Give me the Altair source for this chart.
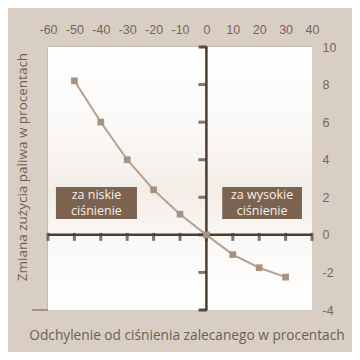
import altair as alt
import pandas as pd

# data
deviation = [-50, -40, -30, -20, -10, 0, 10, 20, 30]
fuel_change = [8.2, 6.0, 4.0, 2.4, 1.1, 0.0, -1.05, -1.75, -2.25]
x_ticks = [-60, -50, -40, -30, -20, -10, 0, 10, 20, 30, 40]
y_ticks = [-4, -2, 0, 2, 4, 6, 8, 10]
box_labels = ["za niskie", "za wysokie"]
box_line2 = ["ciśnienie", "ciśnienie"]
box_x1 = [-57, 6]
box_x2 = [-26.3, 36.2]
box_y1 = [0.85, 0.85]
box_y2 = [2.55, 2.55]

df = pd.DataFrame({"x": deviation, "y": fuel_change})
xt = pd.DataFrame({"x": x_ticks})
yt = pd.DataFrame({"y": y_ticks})
boxes = pd.DataFrame({
    "x1": box_x1, "x2": box_x2, "y1": box_y1, "y2": box_y2,
    "l1": box_labels, "l2": box_line2,
})
boxes["xc"] = (boxes["x1"] + boxes["x2"]) / 2
boxes["yc"] = (boxes["y1"] + boxes["y2"]) / 2

W, H = 264, 263
BROWN = "#4d3d31"
TXT = "#6e5e52"
LBL = "#75665a"
GRID = "#d6cec6"

xs = alt.Scale(domain=[-60, 40], nice=False, zero=False)
ys = alt.Scale(domain=[-4, 10], nice=False, zero=False)

xaxis = alt.Axis(orient="top", values=x_ticks, grid=True, gridColor=GRID, gridOpacity=1,
                 domain=False, ticks=False, labelPadding=11, labelFont="Liberation Sans",
                 labelFontSize=12.5, labelColor=LBL, title=None, labelOverlap=False,
                 labelExpr="toString(datum.value)", labelFlush=False)
yaxis = alt.Axis(orient="right", values=y_ticks, grid=True, gridColor=GRID, gridOpacity=1,
                 domain=False, ticks=False, labelPadding=10, labelFont="Liberation Sans",
                 labelFontSize=12.5, labelColor=LBL, title=None, labelAlign="left",
                 labelOverlap=False, labelExpr="toString(datum.value)", labelFlush=False)


def X(field):
    return alt.X(field, scale=xs, axis=xaxis)


def Y(field):
    return alt.Y(field, scale=ys, axis=yaxis)


def XD(v):
    return alt.datum(v, scale=xs, axis=xaxis)


def YD(v):
    return alt.datum(v, scale=ys, axis=yaxis)


one = pd.DataFrame({"a": [0]})

bg = alt.Chart(one).mark_rect(
    color=alt.LinearGradient(gradient="linear", x1=0, y1=0, x2=0, y2=1, stops=[
        alt.GradientStop(offset=0, color="#ffffff"),
        alt.GradientStop(offset=0.3, color="#fbf9f7"),
        alt.GradientStop(offset=0.55, color="#f3ede7"),
        alt.GradientStop(offset=0.75, color="#fbf9f7"),
        alt.GradientStop(offset=1, color="#ffffff"),
    ])
).encode(x=XD(-60), x2=alt.datum(40), y=YD(-4), y2=alt.datum(10))

hrule = alt.Chart(one).mark_rule(color=BROWN, strokeWidth=2.5).encode(
    x=XD(-60), x2=alt.datum(40), y=YD(0))
vrule = alt.Chart(one).mark_rule(color=BROWN, strokeWidth=2.5).encode(
    x=XD(0), y=YD(-4), y2=alt.datum(10))
hooks = alt.Chart(pd.DataFrame({"y": [-4, 10]})).mark_tick(
    color=BROWN, orient="horizontal", size=8, thickness=2.5, xOffset=-3).encode(
    x=XD(0), y=Y("y:Q"))

xticks = alt.Chart(xt).mark_tick(color=BROWN, orient="vertical", size=8,
                                 thickness=3, yOffset=2).encode(x=X("x:Q"), y=YD(0))
yticks = alt.Chart(yt).mark_tick(color=BROWN, orient="horizontal", size=8,
                                 thickness=3, xOffset=-4).encode(x=XD(0), y=Y("y:Q"))

line = alt.Chart(df).mark_line(color="#b7a290", strokeWidth=2).encode(x=X("x:Q"), y=Y("y:Q"))
pts = alt.Chart(df).mark_square(color="#a8927f", size=45, opacity=1).encode(x=X("x:Q"), y=Y("y:Q"))

rects = alt.Chart(boxes).mark_rect(color="#7b6350").encode(
    x=X("x1:Q"), x2="x2:Q", y=Y("y1:Q"), y2="y2:Q")
t1 = alt.Chart(boxes).mark_text(color="#f4efea", font="Open Sans", fontSize=12.5,
                                dy=-8).encode(x=X("xc:Q"), y=Y("yc:Q"), text="l1:N")
t2 = alt.Chart(boxes).mark_text(color="#f4efea", font="Open Sans", fontSize=12.5,
                                dy=8).encode(x=X("xc:Q"), y=Y("yc:Q"), text="l2:N")

ytitle = alt.Chart(pd.DataFrame({"t": ["Zmiana zużycia paliwa w procentach"]})).mark_text(
    color=TXT, font="Open Sans", fontSize=13.5, angle=270).encode(
    x=alt.value(-25), y=alt.value(120), text="t:N")
xtitle = alt.Chart(pd.DataFrame({"t": ["Odchylenie od ciśnienia zalecanego w procentach"]})).mark_text(
    color=TXT, font="Open Sans", fontSize=13.7).encode(
    x=alt.value(139), y=alt.value(289), text="t:N")
bottom_ext = alt.Chart(one).mark_rule(color="#8f7f70", strokeWidth=1.5).encode(
    x=alt.value(-16), x2=alt.value(0), y=alt.value(H))

chart = alt.layer(bg, hrule, vrule, hooks, xticks, yticks, line, pts, rects, t1, t2,
                  ytitle, xtitle, bottom_ext).properties(
    width=W, height=H,
    autosize=alt.AutoSizeParams(type="none"),
    padding={"left": 40, "top": 39, "right": 40, "bottom": 42},
    background="#d9cec4",
).configure_view(stroke="#9a8b7d", strokeWidth=1.2)

chart.save("out.html", embed_options={"renderer": "svg", "actions": False})
